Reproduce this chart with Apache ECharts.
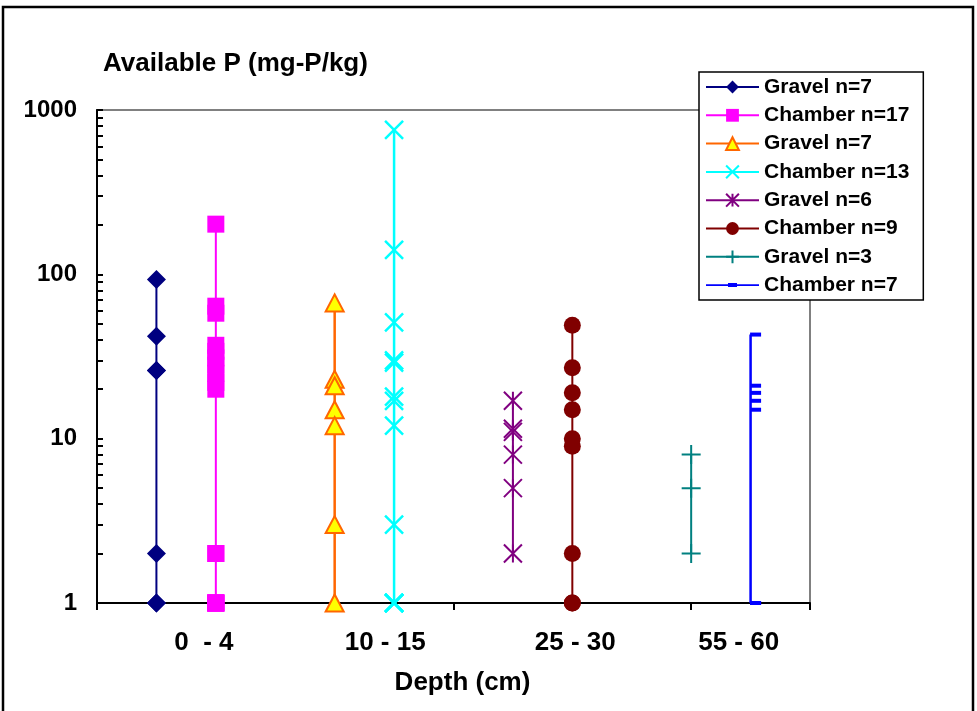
<!DOCTYPE html>
<html lang="en">
<head>
    <meta charset="UTF-8">
    <title>Available P</title>
    <script src="https://cdn.jsdelivr.net/npm/echarts@6/dist/echarts.min.js"></script>
    <style>
        html, body {margin: 0; padding: 0; background: #fff;}
        #main {width: 977px; height: 711px;}
    </style>
</head>
<body>
<div id="main"></div>
<script>
    // x positions of each series (units), depth labels
    var depthLabels = ['0  - 4', '10 - 15', '25 - 30', '55 - 60']
    var depthLabelAt = [1.8, 4.85, 8.05, 10.8]
    var seriesX = [1, 2, 4, 5, 7, 8, 10, 11]
    var yTicks = [1, 2, 3, 4, 5, 6, 7, 8, 9, 10, 20, 30, 40, 50, 60, 70, 80, 90,
        100, 200, 300, 400, 500, 600, 700, 800, 900, 1000]
    var seriesNames = ['Gravel n=7', 'Chamber n=17', 'Gravel n=7 ', 'Chamber n=13',
        'Gravel n=6', 'Chamber n=9', 'Gravel n=3', 'Chamber n=7']

    // Available P values (mg-P/kg)
    var gravel0to4 = [93, 42, 26, 26, 2, 1, 1]
    var chamber0to4 = [202, 64, 58, 37, 34, 31, 28, 25, 22, 20, 2, 2, 1, 1, 1, 1, 1]
    var gravel10to15 = [67, 23, 21, 15, 12, 3, 1]
    var chamber10to15 = [757, 141, 51, 30, 29, 18, 17, 12, 3, 1, 1, 1, 1]
    var gravel25to30 = [17, 11.5, 11, 8, 5, 2]
    var chamber25to30 = [49, 27, 19, 15, 10, 9, 2, 1, 1]
    var gravel55to60 = [8, 5, 2]
    var chamber55to60 = [43, 21, 19, 17, 15, 1, 1]

    var allValues = [gravel0to4, chamber0to4, gravel10to15, chamber10to15,
        gravel25to30, chamber25to30, gravel55to60, chamber55to60]

    var FONT = "'Liberation Sans', Arial, sans-serif"
    var xMark = 'path://M0,0L10,10M10,0L0,10'
    var starMark = 'path://M0,0L10,10M10,0L0,10M5,0L5,10'
    var plusMark = 'path://M0,5L10,5M5,0L5,10'
    // legend icon for the dash series: thin line with a small dash in the middle
    var dashLegendIcon = 'path://M0,1.2H53V2.8H0ZM22,0H31V4H22Z'

    // per-series look: line colour, symbol, size, fill, border
    var looks = [
        {c: '#000080', sym: 'diamond', size: 19, lw: 2},
        {c: '#FF00FF', sym: 'rect', size: 17, lw: 2},
        {c: '#FF6600', sym: 'triangle', size: [18, 17], lw: 2.5, fill: '#FFFF00', bw: 2},
        {c: '#00FFFF', sym: xMark, size: 18, lw: 2.5, bw: 2.5},
        {c: '#800080', sym: starMark, size: 18, lw: 2, bw: 2},
        {c: '#800000', sym: 'circle', size: 17, lw: 2},
        {c: '#008080', sym: plusMark, size: 19, lw: 2, bw: 2},
        {c: '#0000FF', sym: 'rect', size: [11, 4], lw: 2.5, off: [5, 0]}
    ]

    var series = []
    for (var i = 0; i < allValues.length; i++) {
        var lk = looks[i]
        var pts = []
        for (var j = 0; j < allValues[i].length; j++) {
            pts.push([seriesX[i], allValues[i][j]])
        }
        series.push({
            name: seriesNames[i],
            type: 'line',
            data: pts,
            clip: false,
            color: lk.c,
            symbol: lk.sym,
            symbolSize: lk.size,
            symbolOffset: lk.off || [0, 0],
            symbolKeepAspect: false,
            lineStyle: {color: lk.c, width: lk.lw},
            itemStyle: {
                color: lk.fill || lk.c,
                borderColor: lk.c,
                borderWidth: lk.bw || 0
            },
            emphasis: {disabled: true}
        })
    }

    var legendData = []
    for (var k = 0; k < seriesNames.length; k++) {
        if (k === 7) legendData.push({name: seriesNames[k], icon: dashLegendIcon, itemStyle: {color: '#0000FF'}})
        else legendData.push(seriesNames[k])
    }

    var mCharts = echarts.init(document.getElementById('main'))
    var option = {
        animation: false,
        backgroundColor: '#fff',
        textStyle: {fontFamily: FONT},
        title: {
            text: 'Available P (mg-P/kg)',
            left: 103,
            top: 51,
            padding: 0,
            textStyle: {fontFamily: FONT, fontSize: 26, fontWeight: 'bold', color: '#000'}
        },
        legend: {
            orient: 'vertical',
            left: 699,
            top: 72,
            data: legendData,
            itemWidth: 53,
            itemHeight: 16,
            itemGap: 0.3,
            padding: [1, 14, 1, 6],
            backgroundColor: '#fff',
            borderColor: '#000',
            borderWidth: 1.5,
            borderRadius: 0,
            selectedMode: false,
            textStyle: {fontFamily: FONT, fontSize: 21, fontWeight: 'bold', color: '#000', lineHeight: 28}
        },
        grid: {
            left: 97, right: 167, top: 110, bottom: 108,
            show: true,
            borderColor: '#808080',
            borderWidth: 2,
            backgroundColor: '#fff'
        },
        xAxis: {
            type: 'value',
            min: 0,
            max: 12,
            interval: 2,
            name: 'Depth (cm)',
            nameLocation: 'middle',
            nameGap: 67,
            nameTextStyle: {fontFamily: FONT, fontSize: 26, fontWeight: 'bold', color: '#000', padding: [0, 0, 0, 18]},
            axisLine: {lineStyle: {color: '#000', width: 2}},
            axisTick: {show: true, length: 7, lineStyle: {color: '#000', width: 2}},
            splitLine: {show: false},
            axisLabel: {
                customValues: depthLabelAt,
                margin: 27,
                fontFamily: FONT, fontSize: 26, fontWeight: 'bold', color: '#000',
                formatter: function (v) {
                    var k = depthLabelAt.indexOf(v)
                    return k >= 0 ? depthLabels[k] : ''
                }
            }
        },
        yAxis: {
            type: 'log',
            logBase: 10,
            min: 1,
            max: 1000,
            axisLine: {show: true, lineStyle: {color: '#000', width: 2}},
            axisTick: {show: true, inside: true, length: 6, customValues: yTicks, lineStyle: {color: '#000', width: 2}},
            splitLine: {show: false},
            axisLabel: {
                margin: 20,
                fontFamily: FONT, fontSize: 24, fontWeight: 'bold', color: '#000',
                formatter: function (v) {
                    return String(v)
                }
            }
        },
        graphic: [{
            type: 'rect',
            shape: {x: 3, y: 7, width: 970, height: 712},
            style: {fill: null, stroke: '#000', lineWidth: 2.5},
            silent: true,
            z: 100
        }],
        series: series
    }
    mCharts.setOption(option)
    window.onresize = mCharts.resize
</script>
</body>
</html>
